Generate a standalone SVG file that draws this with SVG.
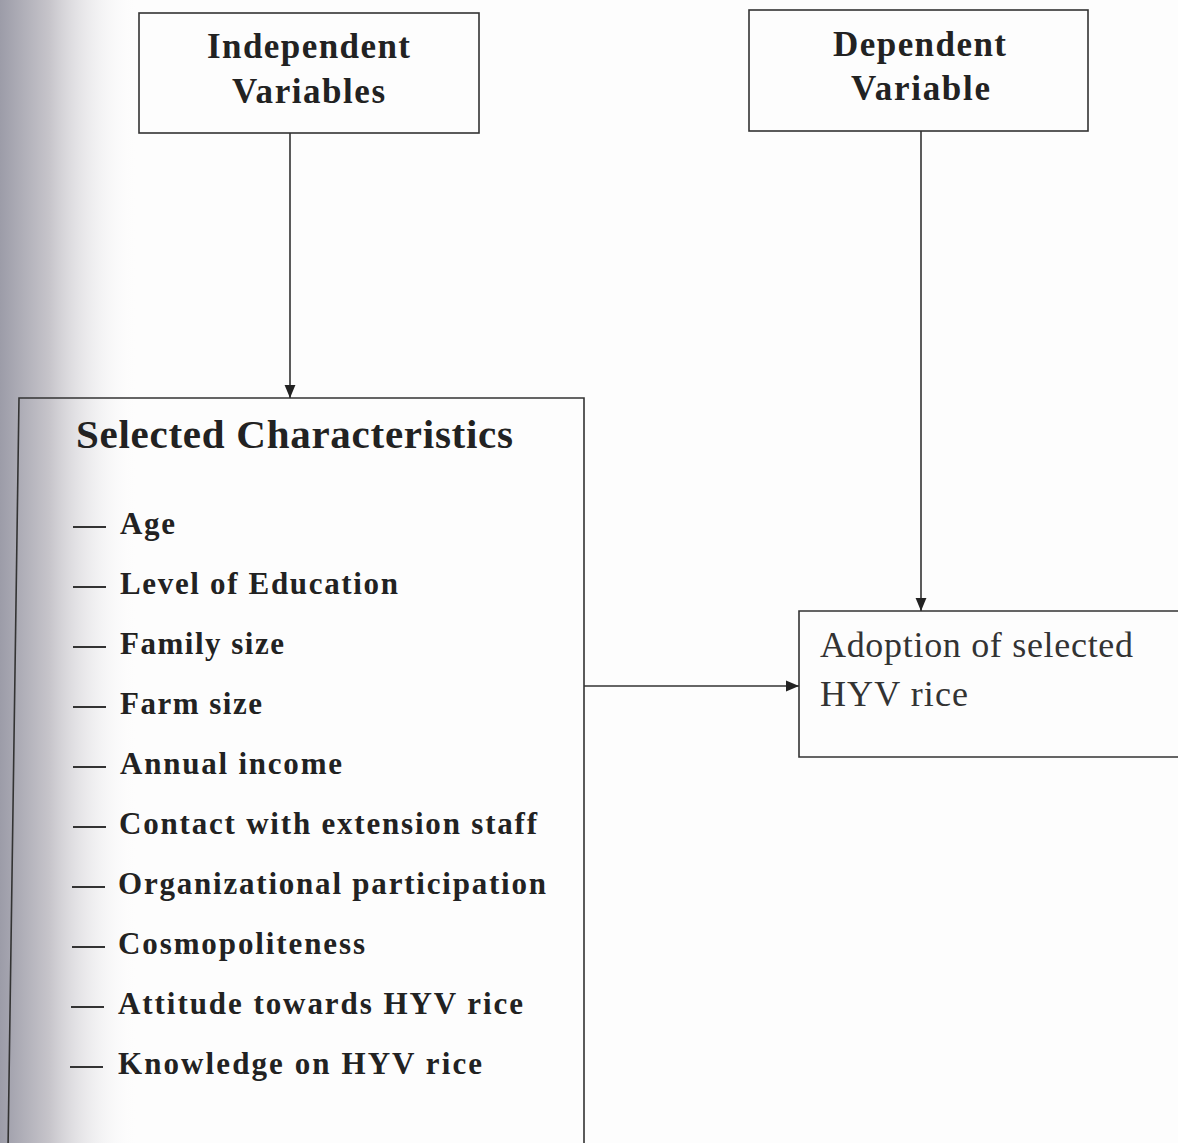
<svg xmlns="http://www.w3.org/2000/svg" width="1178" height="1143" viewBox="0 0 1178 1143">
<defs>
<linearGradient id="shade" x1="0" y1="0" x2="1" y2="0">
<stop offset="0" stop-color="#9c9ca8"/>
<stop offset="0.35" stop-color="#c6c4ca"/>
<stop offset="1" stop-color="#ffffff" stop-opacity="0"/>
</linearGradient>
<marker id="arr" viewBox="0 0 12 12" refX="12" refY="6" markerWidth="13" markerHeight="13" markerUnits="userSpaceOnUse" orient="auto">
<path d="M0,1 L12,6 L0,11 Z" fill="#222"/>
</marker>
<style>
.box{fill:none;stroke:#333;stroke-width:1.6}
.conn{fill:none;stroke:#333;stroke-width:1.6}
.hd{font-family:"Liberation Serif","Times New Roman",serif;font-weight:bold;font-size:35px;fill:#222}
.ti{font-family:"Liberation Serif","Times New Roman",serif;font-weight:bold;font-size:41px;fill:#222}
.it{font-family:"Liberation Serif","Times New Roman",serif;font-weight:bold;font-size:31px;fill:#222}
.dash{stroke:#333;stroke-width:2.2}
.ad{font-family:"Liberation Serif","Times New Roman",serif;font-size:36px;fill:#333}
</style>
</defs>
<rect width="1178" height="1143" fill="#fdfdfd"/>
<rect width="140" height="1143" fill="url(#shade)"/>
<g id="independent">
<rect class="box" x="139" y="13" width="340" height="120"/>
<text class="hd" x="207" y="58" textLength="203" lengthAdjust="spacing">Independent</text>
<text class="hd" x="232" y="103" textLength="153" lengthAdjust="spacing">Variables</text>
</g>
<g id="dependent">
<rect class="box" x="749" y="10" width="339" height="121"/>
<text class="hd" x="833" y="56" textLength="173" lengthAdjust="spacing">Dependent</text>
<text class="hd" x="851" y="100" textLength="139" lengthAdjust="spacing">Variable</text>
</g>
<g id="characteristics">
<path class="box" d="M8,1150 L19,398 L584,398 L584,1150"/>
<text class="ti" x="76" y="448" textLength="437" lengthAdjust="spacing">Selected Characteristics</text>
<g class="dash">
<line x1="73" y1="527" x2="106" y2="527"/>
<line x1="73" y1="587" x2="106" y2="587"/>
<line x1="73" y1="647" x2="106" y2="647"/>
<line x1="73" y1="707" x2="106" y2="707"/>
<line x1="73" y1="767" x2="106" y2="767"/>
<line x1="73" y1="827" x2="106" y2="827"/>
<line x1="72" y1="887" x2="105" y2="887"/>
<line x1="72" y1="947" x2="105" y2="947"/>
<line x1="71" y1="1007" x2="104" y2="1007"/>
<line x1="70" y1="1067" x2="103" y2="1067"/>
</g>
<g class="it">
<text x="120" y="534" textLength="55" lengthAdjust="spacing">Age</text>
<text x="120" y="594" textLength="278" lengthAdjust="spacing">Level of Education</text>
<text x="120" y="654" textLength="164" lengthAdjust="spacing">Family size</text>
<text x="120" y="714" textLength="142" lengthAdjust="spacing">Farm size</text>
<text x="120" y="774" textLength="222" lengthAdjust="spacing">Annual income</text>
<text x="119" y="834" textLength="418" lengthAdjust="spacing">Contact with extension staff</text>
<text x="118" y="894" textLength="428" lengthAdjust="spacing">Organizational participation</text>
<text x="118" y="954" textLength="247" lengthAdjust="spacing">Cosmopoliteness</text>
<text x="118" y="1014" textLength="405" lengthAdjust="spacing">Attitude towards HYV rice</text>
<text x="118" y="1074" textLength="364" lengthAdjust="spacing">Knowledge on HYV rice</text>
</g>
</g>
<g id="adoption">
<path class="box" d="M1180,611 L799,611 L799,757 L1180,757"/>
<text class="ad" x="820" y="657" textLength="313" lengthAdjust="spacing">Adoption of selected</text>
<text class="ad" x="820" y="706" textLength="148" lengthAdjust="spacing">HYV rice</text>
</g>
<g id="connectors">
<line class="conn" x1="290" y1="133" x2="290" y2="398" marker-end="url(#arr)"/>
<line class="conn" x1="921" y1="131" x2="921" y2="611" marker-end="url(#arr)"/>
<line class="conn" x1="584" y1="686" x2="799" y2="686" marker-end="url(#arr)"/>
</g>
</svg>
